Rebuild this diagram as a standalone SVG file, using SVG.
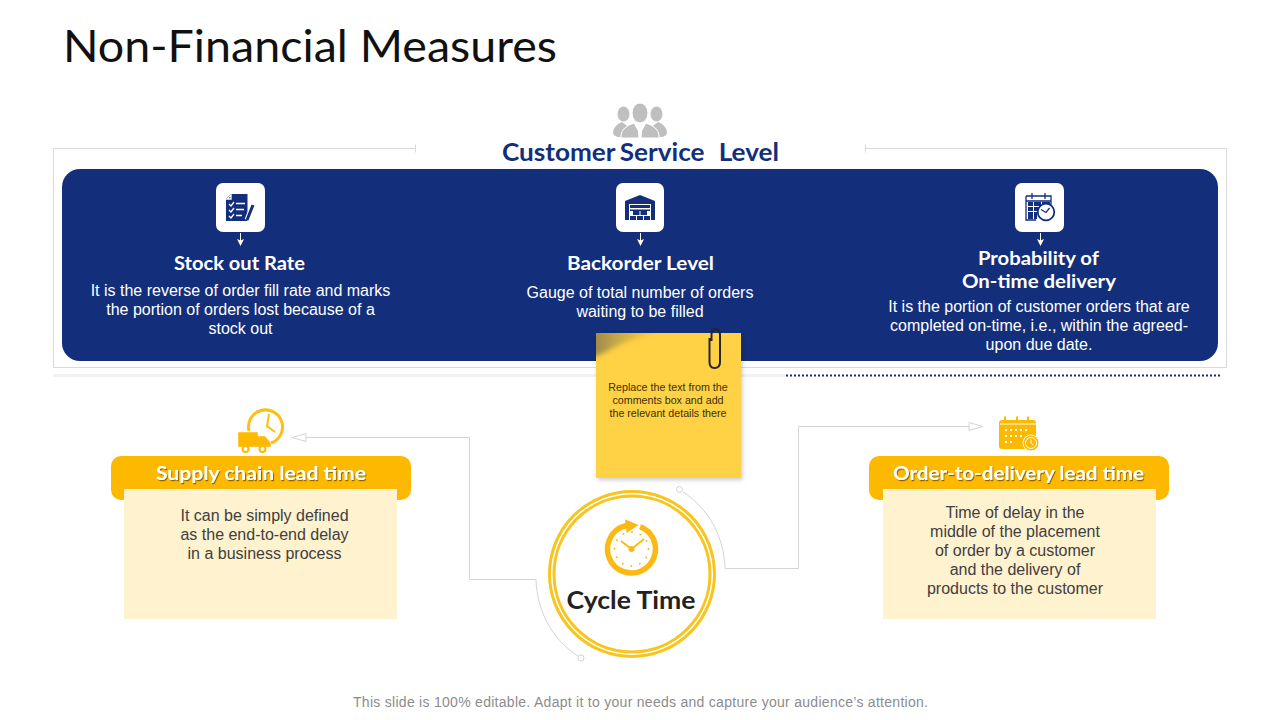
<svg xmlns="http://www.w3.org/2000/svg" width="1280" height="720" viewBox="0 0 1280 720">
<style>
.h{font-family:"Lato","Open Sans","DejaVu Sans",sans-serif;font-weight:700;text-anchor:middle}
.b{font-family:"Liberation Sans",Arial,sans-serif;font-size:16px;text-anchor:middle}
.w{fill:#fff}.d{fill:#404040}
.line{fill:none;stroke:#d9d9d9;stroke-width:1}
.conn{fill:none;stroke:#d4d4d4;stroke-width:1}
.navy{fill:#132f7b}.yel{fill:#fdb900}.chip{fill:#fff}
</style>
<defs>
<filter id="ts" x="-5%" y="-20%" width="110%" height="150%"><feDropShadow dx="1" dy="1.2" stdDeviation="0.6" flood-color="#000" flood-opacity="0.45"/></filter>
<filter id="ns" x="-5%" y="-5%" width="112%" height="112%"><feDropShadow dx="1.500" dy="2" stdDeviation="2" flood-color="#000" flood-opacity="0.2"/></filter>
<filter id="soft" x="-20%" y="-50%" width="140%" height="200%"><feGaussianBlur stdDeviation="2.500"/></filter>
<clipPath id="noteclip"><rect x="596" y="333" width="145" height="145"/></clipPath>
<linearGradient id="fold" x1="0" y1="0" x2="1" y2="0"><stop offset="0" stop-color="#7d7050" stop-opacity="0.8"/><stop offset="0.5" stop-color="#b09a45" stop-opacity="0.45"/><stop offset="1" stop-color="#ffd145" stop-opacity="0"/></linearGradient>
<marker id="hollow" markerUnits="userSpaceOnUse" markerWidth="16" markerHeight="12" refX="1" refY="5" orient="auto"><path d="M1 1L15 5L1 9Z" fill="#fff" stroke="#d4d4d4"/></marker>
<marker id="wa" markerUnits="userSpaceOnUse" markerWidth="10" markerHeight="8" refX="6" refY="3.500" orient="auto"><path d="M0 0L7 3.500L0 7L1.500 3.500Z" fill="#fff"/></marker>
</defs>
<rect width="1280" height="720" fill="#fff"/>

<g id="title"><text x="63" y="62" textLength="494" lengthAdjust="spacingAndGlyphs" font-family="Lato,'Open Sans',sans-serif" font-size="45" fill="#111">Non-Financial Measures</text></g>

<g id="customer-service">
<path class="line" d="M415.500 148.500H53.500V367.500H1226.500V148.500H865.500M415.500 144.500V152.500M865.500 144.500V152.500"/>
<rect x="53" y="374" width="732" height="3" fill="#f2f2f2"/>
<line x1="786" y1="375.500" x2="1221" y2="375.500" stroke="#132f7b" stroke-width="2" stroke-dasharray="2 2"/>
<g fill="#bfbfbf">
<ellipse cx="623.500" cy="114" rx="6" ry="7.500"/><ellipse cx="656.500" cy="114" rx="6" ry="7.500"/>
<path d="M613 132Q614 125 622 122L630 128L626 137H618Q613 136 613 132Z"/><path d="M667 132Q666 125 658 122L650 128L654 137H662Q667 136 667 132Z"/>
<ellipse cx="640" cy="113" rx="8" ry="10" stroke="#fff" stroke-width="1"/>
<path d="M621 138V135Q622 127 634 123L638.500 131L639 138ZM659 138V135Q658 127 646 123L641.500 131L641 138Z" stroke="#fff" stroke-width="1"/>
</g>
<text class="h" x="640.500" y="161" font-size="24" textLength="277" lengthAdjust="spacingAndGlyphs" word-spacing="-1.500" fill="#132f7b" xml:space="preserve">Customer Service   Level</text>
<rect x="62" y="169" width="1156" height="192" rx="18" class="navy"/>
</g>

<g id="stock-out">
<rect x="216" y="183" width="49" height="49" rx="7" class="chip"/>
<path class="navy" d="M231 194H247.500V221H226V199Z"/>
<path d="M227 199L231 195V199ZM229 204l2 2 3-4M229 210l2 2 3-4M229 216l2 2 3-4M236 203.500H245M236 209.500H244M236 215.500H242" fill="none" stroke="#fff" stroke-width="1.300"/>
<line x1="247" y1="220" x2="253" y2="205" stroke="#fff" stroke-width="5"/>
<line x1="247" y1="220" x2="253" y2="205" stroke="#132f7b" stroke-width="3"/>
<line x1="240.500" y1="233" x2="240.500" y2="245" stroke="#fff" marker-end="url(#wa)"/>
<text class="h w" x="239.500" y="270" font-size="18.500" textLength="131" lengthAdjust="spacingAndGlyphs">Stock out Rate</text>
<text class="b w" x="240.500" y="296">It is the reverse of order fill rate and marks</text>
<text class="b w" x="240.500" y="315">the portion of orders lost because of a</text>
<text class="b w" x="240.500" y="334">stock out</text>
</g>

<g id="backorder">
<rect x="616" y="183" width="48" height="49" rx="7" class="chip"/>
<path class="navy" d="M625 201L640 195L655 201V220H651V204H629V220H625Z"/>
<path class="navy" d="M630 205H650V208H630ZM630 209.500H650V211H630Z"/>
<path class="navy" d="M633 210.500H639.500V215H633ZM640.500 210.500H647V215H640.500ZM630 216H636V220H630ZM637 216H643V220H637ZM644 216H650V220H644Z"/>
<line x1="640.500" y1="233" x2="640.500" y2="245" stroke="#fff" marker-end="url(#wa)"/>
<text class="h w" x="640.500" y="270" font-size="18.500" textLength="147" lengthAdjust="spacingAndGlyphs">Backorder Level</text>
<text class="b w" x="640" y="298">Gauge of total number of orders</text>
<text class="b w" x="640" y="317">waiting to be filled</text>
</g>

<g id="on-time">
<rect x="1015" y="183" width="49" height="49" rx="7" class="chip"/>
<path d="M1026 196H1051V208M1026 196V220H1036M1026 201H1051M1032 193V199M1045 193V199" fill="none" stroke="#132f7b" stroke-width="1.300"/>
<path class="navy" d="M1028 202H1033V206H1028ZM1034 202H1041V206H1034ZM1028 207H1033V211H1028ZM1034 207H1040V211H1034ZM1028 212H1033V219H1028ZM1034 212H1037V219H1034ZM1042 202H1050V205H1042Z"/>
<circle cx="1046" cy="212" r="8.300" fill="#fff" stroke="#132f7b" stroke-width="1.800"/>
<path d="M1041 209.500l5 3 3.500-4.500" fill="none" stroke="#132f7b" stroke-width="1.300"/>
<line x1="1040.500" y1="233" x2="1040.500" y2="245" stroke="#fff" marker-end="url(#wa)"/>
<text class="h w" x="1038.500" y="265" font-size="18.500" textLength="121" lengthAdjust="spacingAndGlyphs">Probability of</text>
<text class="h w" x="1039" y="288" font-size="18.500" textLength="154" lengthAdjust="spacingAndGlyphs">On-time delivery</text>
<text class="b w" x="1039" y="312">It is the portion of customer orders that are</text>
<text class="b w" x="1039" y="331">completed on-time, i.e., within the agreed-</text>
<text class="b w" x="1039" y="350">upon due date.</text>
</g>

<g id="connectors">
<path class="conn" d="M536 579.500H469.500V437.500H306" marker-end="url(#hollow)"/>
<path class="conn" d="M725 568.500H798.500V426.500H969" marker-end="url(#hollow)"/>
<path class="conn" d="M536 579.500C537 612 553 640 578 656"/>
<path class="conn" d="M725 568.500C724 536 708 508 683 492"/>
<circle class="conn" cx="581" cy="658" r="3"/>
<circle class="conn" cx="679.500" cy="489.500" r="3"/>
</g>

<g id="note">
<rect x="596" y="333" width="145" height="145" fill="#ffd145" filter="url(#ns)"/>
<g clip-path="url(#noteclip)"><path d="M592 329H672Q628 338 606 352L596 356H592Z" fill="url(#fold)" filter="url(#soft)"/></g>
<path d="M709.500 338V362Q709.500 368 714.500 368Q720 368 720 362V335Q720 329 715.500 329Q711.500 329 711.500 335V341" fill="none" stroke="#262626" stroke-width="2"/>
<g font-family="'Liberation Sans',Arial,sans-serif" font-size="10.700" text-anchor="middle" fill="#3d2f05">
<text x="668" y="391">Replace the text from the</text>
<text x="668" y="404">comments box and add</text>
<text x="668" y="417">the relevant details there</text>
</g>
</g>

<g id="supply-chain">
<path d="M249 431A17 17 0 1 1 271 443" fill="none" stroke="#fdc010" stroke-width="3"/>
<path d="M269 414L267 426L275 432" fill="none" stroke="#fdc010" stroke-width="2"/>
<path class="yel" d="M238 432H258V436H265L271 443V447H238Z" stroke="#fff" stroke-width="0.500"/>
<circle cx="245.500" cy="449" r="3" fill="#fff" stroke="#fdb900" stroke-width="2"/><circle cx="262.500" cy="449" r="3" fill="#fff" stroke="#fdb900" stroke-width="2"/>
<rect x="111" y="456" width="300" height="44" rx="10" class="yel"/>
<rect x="124" y="489" width="273" height="130" fill="#fff2cf"/>
<text class="h w" x="261" y="480" font-size="18.500" textLength="210" lengthAdjust="spacingAndGlyphs" filter="url(#ts)">Supply chain lead time</text>
<text class="b d" x="264.500" y="521">It can be simply defined</text>
<text class="b d" x="264.500" y="540">as the end-to-end delay</text>
<text class="b d" x="264.500" y="559">in a business process</text>
</g>

<g id="order-to-delivery">
<rect x="999" y="420" width="37" height="29" rx="3" class="yel"/>
<path d="M1000 424H1036" stroke="#fff" stroke-width="1"/>
<path d="M1005 416.500V422M1017 416.500V422M1028 416.500V422" stroke="#fdb900" stroke-width="2"/>
<path d="M1005 430h2M1010 430h2M1015 430h2M1020 430h2M1025 430h2M1005 436h2M1010 436h2M1015 436h2M1020 436h2M1005 442h2M1010 442h2" stroke="#fff" stroke-width="2"/>
<circle cx="1031" cy="443" r="8" fill="#fdb900" stroke="#fff" stroke-width="1"/><circle cx="1031" cy="443" r="5.500" fill="none" stroke="#fff"/><path d="M1031 439.500V443L1033.500 445" fill="none" stroke="#fff"/>
<rect x="869" y="456" width="300" height="44" rx="10" class="yel"/>
<rect x="883" y="489" width="273" height="130" fill="#fff2cf"/>
<text class="h w" x="1018.500" y="480" font-size="18.500" textLength="251" lengthAdjust="spacingAndGlyphs" filter="url(#ts)">Order-to-delivery lead time</text>
<text class="b d" x="1015" y="518">Time of delay in the</text>
<text class="b d" x="1015" y="537">middle of the placement</text>
<text class="b d" x="1015" y="556">of order by a customer</text>
<text class="b d" x="1015" y="575">and the delivery of</text>
<text class="b d" x="1015" y="594">products to the customer</text>
</g>

<g id="cycle-time">
<circle cx="632" cy="574" r="82.500" fill="#fff" stroke="#f8c41e" stroke-width="3"/>
<circle cx="632" cy="574" r="78" fill="none" stroke="#f8c41e" stroke-width="3"/>
<circle cx="631.500" cy="549" r="24" fill="none" stroke="#fdb913" stroke-width="5.500" stroke-dasharray="136 14.800" transform="rotate(-69 631.500 549)"/>
<path d="M625 519.300L638.500 525L626.700 533Z" fill="#fdb913"/>
<circle cx="631.500" cy="549" r="3" fill="#fdb913"/>
<path d="M621 541L631.500 549L644 539" fill="none" stroke="#fdb913" stroke-width="1.800"/>
<circle cx="631.500" cy="549" r="17" fill="none" stroke="#fdb913" stroke-width="2" stroke-linecap="round" stroke-dasharray="0 8.900"/>
<text class="h" x="631" y="609" font-size="25.500" textLength="129" lengthAdjust="spacingAndGlyphs" fill="#222">Cycle Time</text>
</g>

<g id="footer"><text x="640.500" y="707" textLength="575" font-family="'Liberation Sans',Arial,sans-serif" font-size="14" text-anchor="middle" fill="#8c8c8c">This slide is 100% editable. Adapt it to your needs and capture your audience’s attention.</text></g>
</svg>
